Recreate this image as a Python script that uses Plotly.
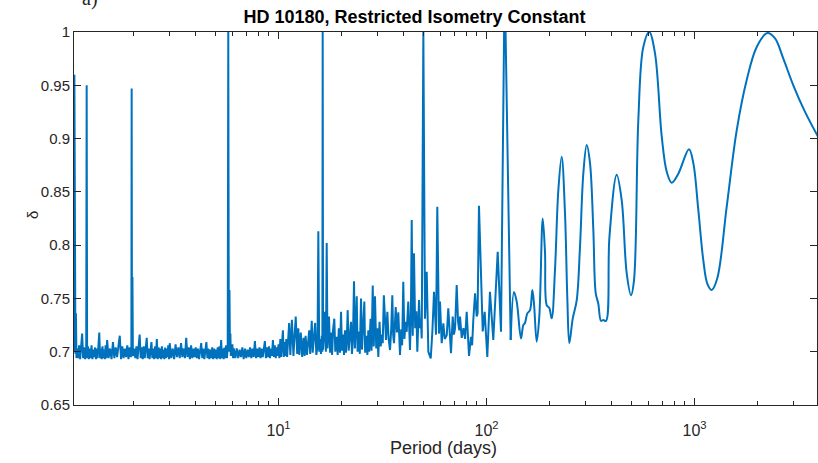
import plotly.graph_objects as go

# ---------------- data ----------------
# noisy part, split by period range (days)
period_1_2 = [
    1.035, 1.040, 1.044, 1.048, 1.052, 1.056, 1.062, 1.068, 1.075, 1.0875,
    1.1, 1.1125, 1.125, 1.1375, 1.15, 1.1625, 1.175, 1.19, 1.196, 1.202,
    1.2125, 1.225, 1.2375, 1.25, 1.2625, 1.275, 1.2875, 1.3, 1.3125, 1.325,
    1.3375, 1.35, 1.3625, 1.375, 1.3875, 1.4, 1.4125, 1.425, 1.4375, 1.45,
    1.4625, 1.475, 1.4875, 1.5, 1.525, 1.55, 1.575, 1.6, 1.625, 1.65,
    1.675, 1.7, 1.725, 1.75, 1.775, 1.8, 1.825, 1.85, 1.875, 1.9,
    1.925, 1.95, 1.962, 1.968, 1.975, 1.985, 1.995,
]
delta_1_2 = [
    0.700, 0.702, 0.960, 0.700, 0.845, 0.698, 0.736, 0.694, 0.703, 0.694,
    0.706, 0.693, 0.702, 0.717, 0.694, 0.704, 0.693, 0.702, 0.950, 0.694,
    0.705, 0.693, 0.703, 0.694, 0.706, 0.693, 0.702, 0.695, 0.704, 0.693,
    0.703, 0.694, 0.706, 0.718, 0.694, 0.703, 0.693, 0.705, 0.694, 0.702,
    0.693, 0.706, 0.694, 0.711, 0.694, 0.703, 0.693, 0.709, 0.694, 0.704,
    0.695, 0.703, 0.715, 0.693, 0.705, 0.694, 0.703, 0.695, 0.706, 0.693,
    0.704, 0.695, 0.700, 0.947, 0.697, 0.770, 0.696,
]
period_2_4 = [
    2.025, 2.05, 2.075, 2.1, 2.125, 2.15, 2.175, 2.2, 2.225, 2.25,
    2.275, 2.3, 2.325, 2.35, 2.375, 2.4, 2.425, 2.45, 2.475, 2.5,
    2.525, 2.55, 2.575, 2.6, 2.625, 2.65, 2.675, 2.7, 2.725, 2.75,
    2.775, 2.8, 2.825, 2.85, 2.875, 2.9, 2.925, 2.95, 2.975, 3.0,
    3.05, 3.1, 3.15, 3.2, 3.25, 3.3, 3.35, 3.4, 3.45, 3.5,
    3.55, 3.6, 3.65, 3.7, 3.75, 3.8, 3.85, 3.9, 3.95,
]
delta_2_4 = [
    0.703, 0.694, 0.705, 0.693, 0.703, 0.716, 0.694, 0.704, 0.693, 0.705,
    0.694, 0.702, 0.713, 0.694, 0.703, 0.693, 0.704, 0.709, 0.694, 0.703,
    0.693, 0.705, 0.694, 0.712, 0.693, 0.704, 0.694, 0.703, 0.693, 0.705,
    0.694, 0.702, 0.693, 0.704, 0.694, 0.703, 0.695, 0.706, 0.693, 0.708,
    0.694, 0.703, 0.693, 0.707, 0.695, 0.704, 0.694, 0.708, 0.695, 0.703,
    0.694, 0.713, 0.695, 0.704, 0.693, 0.706, 0.694, 0.703, 0.695,
]
period_4_8 = [
    4.0, 4.05, 4.1, 4.15, 4.2, 4.25, 4.3, 4.35, 4.4, 4.45,
    4.5, 4.55, 4.6, 4.65, 4.7, 4.75, 4.8, 4.85, 4.9, 4.95,
    5.0, 5.05, 5.1, 5.15, 5.2, 5.25, 5.3, 5.35, 5.4, 5.45,
    5.5, 5.55, 5.6, 5.65, 5.7, 5.735, 5.77, 5.81, 5.84, 5.87,
    5.9, 5.95, 6.0, 6.05, 6.1, 6.2, 6.3, 6.4, 6.5, 6.6,
    6.7, 6.8, 6.9, 7.0, 7.1, 7.2, 7.3, 7.4, 7.5, 7.6,
    7.7, 7.8, 7.9, 8.0,
]
delta_4_8 = [
    0.704, 0.694, 0.703, 0.693, 0.702, 0.708, 0.694, 0.703, 0.693, 0.704,
    0.709, 0.694, 0.703, 0.693, 0.702, 0.694, 0.704, 0.693, 0.703, 0.694,
    0.702, 0.693, 0.704, 0.694, 0.705, 0.693, 0.711, 0.694, 0.703, 0.693,
    0.704, 0.694, 0.706, 0.694, 0.704, 1.000, 0.700, 0.758, 0.705, 0.717,
    0.696, 0.704, 0.707, 0.694, 0.703, 0.694, 0.703, 0.694, 0.702, 0.695,
    0.704, 0.693, 0.703, 0.694, 0.702, 0.695, 0.704, 0.694, 0.703, 0.695,
    0.710, 0.694, 0.703, 0.695,
]
period_8_17 = [
    8.1, 8.2, 8.3, 8.4, 8.5, 8.6, 8.7, 8.8, 8.9, 9.0,
    9.1, 9.2, 9.3, 9.4, 9.5, 9.6, 9.7, 9.8, 9.9, 10.0,
    10.1, 10.2, 10.3, 10.4, 10.5, 10.6, 10.7, 10.8, 10.9, 11.0,
    11.1, 11.25, 11.4, 11.6, 11.8, 11.95, 12.1, 12.3, 12.45, 12.6,
    12.8, 13.0, 13.2, 13.35, 13.5, 13.7, 13.9, 14.05, 14.2, 14.45,
    14.6, 14.8, 15.0, 15.2, 15.4, 15.54, 15.7, 15.9, 16.0, 16.15,
    16.25, 16.31, 16.38, 16.55, 16.73, 16.9,
]
delta_8_17 = [
    0.704, 0.694, 0.703, 0.695, 0.706, 0.710, 0.694, 0.704, 0.695, 0.705,
    0.694, 0.703, 0.696, 0.711, 0.695, 0.706, 0.694, 0.704, 0.696, 0.707,
    0.694, 0.712, 0.695, 0.708, 0.720, 0.695, 0.709, 0.696, 0.712, 0.695,
    0.706, 0.727, 0.697, 0.730, 0.696, 0.712, 0.733, 0.698, 0.722, 0.697,
    0.718, 0.695, 0.713, 0.696, 0.715, 0.697, 0.708, 0.720, 0.698, 0.729,
    0.699, 0.712, 0.727, 0.697, 0.705, 0.813, 0.700, 0.712, 0.698, 0.715,
    0.700, 1.000, 0.702, 0.716, 0.7375, 0.700,
]
period_17_32 = [
    17.05, 17.2, 17.49, 17.7, 17.9, 18.1, 18.3, 18.55, 18.75, 19.05,
    19.25, 19.5, 19.75, 19.98, 20.2, 20.45, 20.65, 20.88, 21.1, 21.3,
    21.51, 21.75, 22.0, 22.32, 22.55, 22.8, 23.07, 23.3, 23.55, 23.77,
    24.0, 24.3, 24.6, 24.93, 25.2, 25.5, 25.86, 26.1, 26.5, 26.75,
    27.03, 27.3, 27.7, 28.0, 28.38, 28.7, 29.1, 29.5, 29.85, 30.19,
    30.6, 31.0, 31.4, 31.7,
]
delta_17_32 = [
    0.802, 0.703, 0.733, 0.699, 0.718, 0.697, 0.721, 0.731, 0.700, 0.714,
    0.697, 0.722, 0.699, 0.7375, 0.701, 0.716, 0.697, 0.720, 0.699, 0.712,
    0.739, 0.701, 0.718, 0.728, 0.698, 0.712, 0.766, 0.703, 0.726, 0.752,
    0.700, 0.719, 0.698, 0.750, 0.702, 0.724, 0.747, 0.699, 0.715, 0.697,
    0.720, 0.700, 0.731, 0.701, 0.762, 0.705, 0.752, 0.703, 0.722, 0.695,
    0.728, 0.705, 0.716, 0.708,
]
period_32_65 = [
    32.1, 32.88, 33.36, 33.85, 34.37, 34.8, 35.25, 35.6, 35.92, 36.6,
    37.1, 37.67, 38.0, 38.38, 38.9, 39.3, 39.8, 40.3, 40.8, 41.33,
    42.07, 42.87, 43.3, 43.7, 44.2, 44.8, 45.4, 46.0, 46.49, 47.38,
    47.9, 48.3, 48.82, 49.7, 50.62, 51.6, 52.52, 53.93, 54.9, 55.94,
    57.19, 58.0, 59.1, 59.76, 60.9, 62.0, 63.0, 64.4,
]
delta_32_65 = [
    0.753, 0.711, 0.7375, 0.712, 0.7016, 0.720, 0.753, 0.715, 0.708, 0.742,
    0.718, 0.737, 0.705, 0.697, 0.721, 0.706, 0.7657, 0.712, 0.728, 0.7187,
    0.747, 0.7016, 0.735, 0.8235, 0.715, 0.7923, 0.722, 0.738, 0.700, 0.7485,
    0.722, 0.731, 0.7125, 1.000, 0.731, 0.775, 0.700, 0.6938, 0.718, 0.7563,
    0.716, 0.836, 0.717, 0.747, 0.708, 0.7266, 0.712, 0.7155,
]
period_65_131 = [
    65.5, 66.5, 67.5, 68.8, 69.7, 70.6, 71.9, 73.0, 74.0, 74.6,
    76.0, 77.5, 78.9, 80.3, 81.3, 82.4, 84.2, 85.3, 86.4, 88.1,
    89.7, 90.6, 92.0, 95.9, 98.0, 100.9, 103.9, 107.8, 113.2, 117.4,
    121.5, 123.5, 130.7,
]
delta_65_131 = [
    0.7407, 0.712, 0.6985, 0.733, 0.716, 0.722, 0.7626, 0.728, 0.720, 0.733,
    0.713, 0.722, 0.712, 0.7375, 0.712, 0.696, 0.714, 0.706, 0.7297, 0.7548,
    0.733, 0.736, 0.837, 0.719, 0.7375, 0.695, 0.7563, 0.711, 0.7938, 0.7187,
    1.000, 1.000, 0.711,
]

# smooth long-period part
period_long = [
    130.7, 135.6, 139.7, 146.5, 150.3, 153.1, 157.1, 161.9, 166.1, 169.2,
    174.3, 179.4, 186.3, 191.1, 194.7, 200.4, 205.8, 213.4, 221.4, 229.8,
    238.4, 244.6, 250.1, 259.7, 271.5, 281.5, 292.0, 303.2, 314.5, 326.3,
    335.0, 344.8, 355.2, 364.4, 375.4, 390.0, 422.7, 446.7, 472.1, 495.1,
    511.8, 536.8, 567.3, 606.2, 645.8, 695.7, 735.3, 777.0, 835.8, 941.0,
    986.8, 1043, 1102, 1152, 1209, 1287, 1428, 1596, 1782, 1991,
    2239, 2438, 2673, 2985, 3399, 3894, 4000,
]
delta_long = [
    0.711, 0.756, 0.747, 0.7125, 0.725, 0.727, 0.736, 0.739, 0.758, 0.745,
    0.7094, 0.733, 0.825, 0.793, 0.7438, 0.741, 0.7313, 0.7766, 0.851, 0.883,
    0.830, 0.751, 0.708, 0.731, 0.7485, 0.7985, 0.867, 0.894, 0.877, 0.814,
    0.755, 0.745, 0.729, 0.7297, 0.7288, 0.808, 0.866, 0.842, 0.7735, 0.753,
    0.767, 0.917, 0.986, 1.000, 0.980, 0.902, 0.869, 0.8586, 0.867, 0.890,
    0.877, 0.833, 0.786, 0.764, 0.758, 0.769, 0.836, 0.908, 0.955, 0.986,
    0.999, 0.994, 0.975, 0.950, 0.925, 0.903, 0.899,
]

y_tick_vals = [0.65, 0.7, 0.75, 0.8, 0.85, 0.9, 0.95, 1.0]
y_tick_text = ["0.65", "0.7", "0.75", "0.8", "0.85", "0.9", "0.95", "1"]
x_tick_vals = [10, 100, 1000]
x_tick_text = ["10<sup>1</sup>", "10<sup>2</sup>", "10<sup>3</sup>"]
x_minor_vals = [2, 3, 4, 5, 6, 7, 8, 9,
                20, 30, 40, 50, 60, 70, 80, 90,
                200, 300, 400, 500, 600, 700, 800, 900,
                2000, 3000]

period_noise = (period_1_2 + period_2_4 + period_4_8 + period_8_17
                + period_17_32 + period_32_65 + period_65_131)
delta_noise = (delta_1_2 + delta_2_4 + delta_4_8 + delta_8_17
               + delta_17_32 + delta_32_65 + delta_65_131)
assert len(period_noise) == len(delta_noise)
assert len(period_long) == len(delta_long)

LINE = "#0072BD"
AX = "#262626"
FONT = "Liberation Sans, Arial, Helvetica, sans-serif"

fig = go.Figure()
fig.add_trace(go.Scatter(x=period_noise, y=delta_noise, mode="lines",
                         line=dict(color=LINE, width=2.0), hoverinfo="skip"))
fig.add_trace(go.Scatter(x=period_long, y=delta_long, mode="lines",
                         line=dict(color=LINE, width=2.0, shape="spline", smoothing=1.0),
                         hoverinfo="skip"))

fig.update_layout(
    width=818, height=463, autosize=False,
    margin=dict(l=74, r=1, t=32, b=58),
    paper_bgcolor="white", plot_bgcolor="white",
    showlegend=False,
    font=dict(family=FONT, color=AX, size=15),
    title=dict(text="<b>HD 10180, Restricted Isometry Constant</b>",
               x=(414.5 - 74) / 743, xref="paper", xanchor="center",
               y=1 - 17 / 463, yref="container", yanchor="middle",
               font=dict(family=FONT, size=18, color="black")),
    xaxis=dict(type="log", range=[0.01683, 3.5889],
               tickmode="array", tickvals=x_tick_vals, ticktext=x_tick_text,
               ticks="inside", ticklen=7, tickwidth=1, tickcolor=AX,
               minor=dict(tickvals=x_minor_vals, ticks="inside", ticklen=4,
                          tickwidth=1, tickcolor=AX, showgrid=False),
               showline=True, linecolor=AX, linewidth=1, mirror="ticks",
               showgrid=False, zeroline=False,
               tickfont=dict(family=FONT, size=16, color=AX),
               ticklabelstandoff=11),
    yaxis=dict(range=[0.65, 1.0],
               tickmode="array", tickvals=y_tick_vals, ticktext=y_tick_text,
               ticks="inside", ticklen=7, tickwidth=1, tickcolor=AX,
               showline=True, linecolor=AX, linewidth=1, mirror="ticks",
               showgrid=False, zeroline=False,
               tickfont=dict(family=FONT, size=15, color=AX)),
    annotations=[
        dict(text="Period (days)", xref="paper", yref="paper",
             x=(443.5 - 74) / 743, y=(405 - 448) / 373, xanchor="center", yanchor="middle",
             showarrow=False, font=dict(family=FONT, size=18, color=AX)),
        dict(text="δ", xref="paper", yref="paper",
             x=(32 - 74) / 743, y=(405 - 215) / 373, xanchor="center", yanchor="middle",
             textangle=-90, showarrow=False, font=dict(family=FONT, size=15, color=AX)),
        dict(text="a)", xref="paper", yref="paper",
             x=(80 - 74) / 743, y=(405 - 12) / 373, xanchor="left", yanchor="bottom",
             showarrow=False, font=dict(family="Liberation Serif, serif", size=20, color=AX)),
    ],
)

fig.write_html("out.html",
               config={"displayModeBar": False},
               post_script="document.body.style.margin='0';document.body.style.overflow='hidden';")
